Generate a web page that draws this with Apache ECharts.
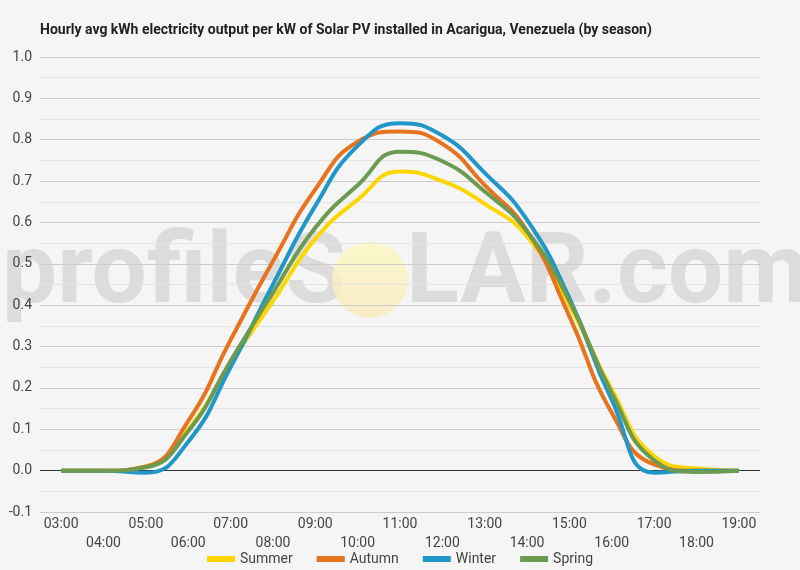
<!DOCTYPE html>
<html>
<head>
<meta charset="utf-8">
<script src="https://cdn.jsdelivr.net/npm/echarts@6/dist/echarts.min.js"></script>
<style>
  html, body { margin: 0; padding: 0; background: #f5f5f5; }
  #chart { width: 800px; height: 570px; }
</style>
</head>
<body>
<div id="chart"></div>
<script>
// Hours on the x axis
const hours = ["03:00", "04:00", "05:00", "06:00", "07:00", "08:00", "09:00", "10:00",
  "11:00", "12:00", "13:00", "14:00", "15:00", "16:00", "17:00", "18:00", "19:00"];

// Hourly avg kWh per kW installed
const summer = [0, 0, 0.01, 0.10, 0.26, 0.41, 0.56, 0.655, 0.723, 0.70, 0.645, 0.566, 0.40, 0.196, 0.035, 0.005, 0];
const autumn = [0, 0, 0.01, 0.12, 0.316, 0.506, 0.68, 0.795, 0.82, 0.79, 0.69, 0.58, 0.373, 0.14, 0.015, 0, 0];
const winter = [0, 0, -0.005, 0.07, 0.25, 0.45, 0.64, 0.785, 0.84, 0.81, 0.72, 0.606, 0.417, 0.171, -0.005, 0, 0];
const spring = [0, 0, 0.008, 0.095, 0.265, 0.43, 0.587, 0.69, 0.771, 0.748, 0.675, 0.578, 0.41, 0.188, 0.025, -0.003, 0];

const colors = ["#fdd600", "#e8731f", "#2196c8", "#6c9a51"];

const chart = echarts.init(document.getElementById("chart"));

function lineSeries(name, data, color) {
  return {
    name: name,
    type: "line",
    smooth: 0.5,
    showSymbol: false,
    data: data,
    color: color,
    lineStyle: { width: 4, color: color },
    z: 3
  };
}

const series = [
  lineSeries("Summer", summer, colors[0]),
  lineSeries("Autumn", autumn, colors[1]),
  lineSeries("Winter", winter, colors[2]),
  lineSeries("Spring", spring, colors[3])
];
// dark zero baseline
series[0].markLine = {
  silent: true,
  symbol: "none",
  label: { show: false },
  lineStyle: { color: "#333", width: 1, type: "solid" },
  data: [{ yAxis: 0 }],
  z: 1
};

const watermarkFill = "rgba(150,150,150,0.26)";

const option = {
  backgroundColor: "#f5f5f5",
  animation: false,
  textStyle: { fontFamily: "Roboto" },
  title: {
    text: "Hourly avg kWh electricity output per kW of Solar PV installed in Acarigua, Venezuela (by season)",
    left: 35,
    top: 18,
    textStyle: { fontSize: 14, fontWeight: "bold", color: "#222", fontFamily: "Roboto" }
  },
  graphic: [
    {
      type: "text", left: 2, top: 228, z: 0, silent: true,
      style: { text: "profileS", fontSize: 98, fontWeight: "bold", fontFamily: "Roboto", fill: watermarkFill }
    },
    {
      type: "circle", shape: { cx: 370, cy: 280, r: 38 }, z: 0, silent: true,
      style: {
        fill: new echarts.graphic.LinearGradient(0, 0, 0, 1, [
          { offset: 0, color: "rgba(252,248,190,0.8)" },
          { offset: 1, color: "rgba(251,232,190,0.8)" }
        ])
      }
    },
    {
      type: "text", left: 406, top: 228, z: 0, silent: true,
      style: { text: "LAR.com", fontSize: 98, fontWeight: "bold", fontFamily: "Roboto", fill: watermarkFill }
    }
  ],
  legend: {
    top: 547,
    left: "center",
    icon: "rect",
    itemWidth: 28,
    itemHeight: 6,
    itemGap: 24,
    textStyle: { fontSize: 14, color: "#444" },
    data: ["Summer", "Autumn", "Winter", "Spring"]
  },
  grid: { left: 40, right: 40, top: 57, bottom: 58 },
  xAxis: {
    type: "category",
    data: hours,
    boundaryGap: true,
    axisLine: { show: false },
    axisTick: { show: false },
    axisLabel: {
      interval: 0,
      margin: 3,
      fontSize: 14,
      lineHeight: 19,
      color: "#444",
      formatter: (v, i) => (i % 2 ? "\n" + v : v)
    }
  },
  yAxis: {
    type: "value",
    min: -0.1,
    max: 1.0,
    interval: 0.1,
    axisLabel: {
      fontSize: 14,
      color: "#444",
      margin: 8,
      formatter: v => v.toFixed(1)
    },
    splitLine: { lineStyle: { color: "#cccccc", width: 1 } },
    minorTick: { show: false, splitNumber: 2 },
    minorSplitLine: { show: true, lineStyle: { color: "#e4e4e4", width: 1 } }
  },
  series: series
};

chart.setOption(option);
</script>
</body>
</html>
